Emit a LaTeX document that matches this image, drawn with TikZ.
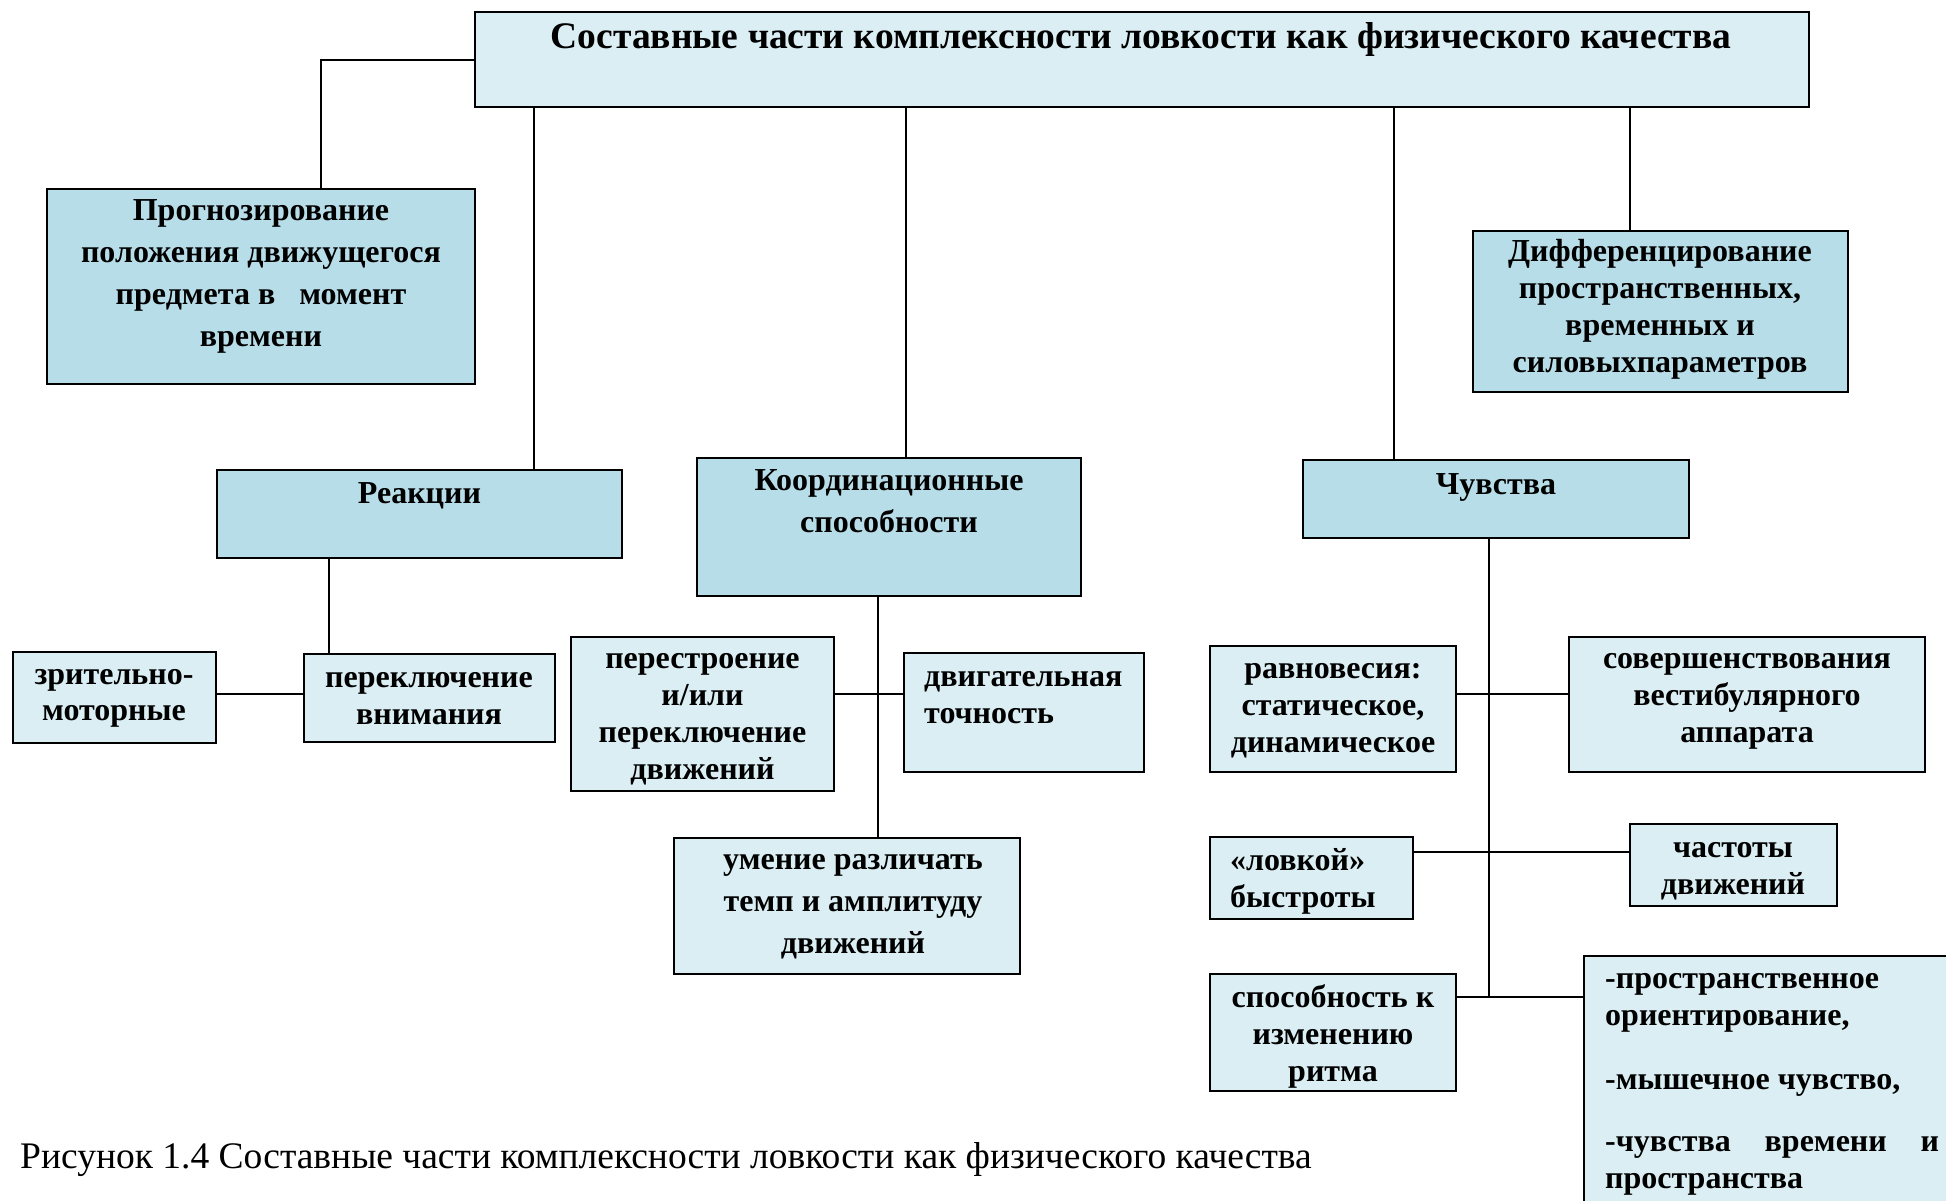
\documentclass[tikz,border=0pt]{standalone}
\usepackage{fontspec}
\setmainfont{Liberation Serif}
\definecolor{clight}{HTML}{DAEEF3}
\definecolor{cdark}{HTML}{B7DDE8}
\begin{document}
\begin{tikzpicture}[x=1pt,y=-1pt,
  boxd/.style={draw=black, line width=2pt, fill=cdark, rectangle, inner sep=0pt},
  boxl/.style={draw=black, line width=2pt, fill=clight, rectangle, inner sep=0pt},
  conn/.style={line width=1.6pt},
  connw/.style={line width=2.4pt},
  txt/.style={font=\bfseries\fontsize{32}{37}\selectfont, align=center, inner sep=0pt},
  txtw/.style={font=\bfseries\fontsize{32}{42}\selectfont, align=center, inner sep=0pt},
  txtl/.style={font=\bfseries\fontsize{32}{37}\selectfont, align=left, inner sep=0pt}
]
\useasboundingbox (0,0) rectangle (1946,1201);
\clip (0,0) rectangle (1946,1201);
\fill[white] (0,0) rectangle (1946,1201);

% boxes
\node[boxl, minimum width=1334, minimum height=95] (top) at (1142,59.5) {};
\node[boxd, minimum width=428, minimum height=195] (prog) at (261,286.5) {};
\node[boxd, minimum width=375, minimum height=161] (diff) at (1660.5,311.5) {};
\node[boxd, minimum width=405, minimum height=88] (reak) at (419.5,514) {};
\node[boxd, minimum width=384, minimum height=138] (koord) at (889,527) {};
\node[boxd, minimum width=386, minimum height=78] (chuv) at (1496,499) {};
\node[boxl, minimum width=203, minimum height=91] (zrit) at (114.5,697.5) {};
\node[boxl, minimum width=251, minimum height=88] (perekl) at (429.5,698) {};
\node[boxl, minimum width=263, minimum height=154] (perestr) at (702.5,714) {};
\node[boxl, minimum width=240, minimum height=119] (dvig) at (1024,712.5) {};
\node[boxl, minimum width=346, minimum height=136] (umen) at (847,906) {};
\node[boxl, minimum width=246, minimum height=126] (ravn) at (1333,709) {};
\node[boxl, minimum width=356, minimum height=135] (sover) at (1747,704.5) {};
\node[boxl, minimum width=203, minimum height=82] (lovk) at (1311.5,878) {};
\node[boxl, minimum width=207, minimum height=82] (chast) at (1733.5,865) {};
\node[boxl, minimum width=246, minimum height=117] (spos) at (1333,1032.5) {};
\node[boxl, minimum width=400, minimum height=300] (big) at (1784,1106) {};

% connectors
\coordinate (tl) at (321,60);
\draw[conn] (top.west |- tl) -- (tl) -- (tl |- prog.north);
\coordinate (r1) at (534,107);
\draw[conn] (r1) -- (r1 |- reak.north);
\coordinate (c1) at (906,107);
\draw[conn] (c1) -- (c1 |- koord.north);
\coordinate (c2) at (1394,107);
\draw[conn] (c2) -- (c2 |- chuv.north);
\coordinate (c3) at (1630,107);
\draw[conn] (c3) -- (c3 |- diff.north);
\coordinate (c4) at (329,558);
\draw[conn] (c4) -- (c4 |- perekl.north);
\draw[connw] (zrit.east |- 0,694) -- (perekl.west |- 0,694);
\coordinate (c5) at (878,596);
\draw[conn] (c5) -- (c5 |- umen.north);
\draw[connw] (perestr.east |- 0,694) -- (dvig.west |- 0,694);
\coordinate (c6) at (1489,538);
\coordinate (c7) at (1489,997);
\draw[conn] (c6) -- (c7);
\draw[connw] (ravn.east |- 0,694) -- (sover.west |- 0,694);
\draw[connw] (lovk.east |- 0,852) -- (chast.west |- 0,852);
\draw[connw] (spos.east |- c7) -- (big.west |- c7);

% texts
\node[font=\bfseries\fontsize{37.5}{42}\selectfont, inner sep=0pt] (ttop) at (1141,39) {Составные части комплексности ловкости как физического качества};
\node[txtw] (tprog) at (261,276) {Прогнозирование\\положения движущегося\\предмета в \ \ момент\\времени};
\node[txt] (tdiff) at (1660,309) {Дифференцирование\\пространственных,\\временных и\\силовыхпараметров};
\node[txt] (treak) at (419.5,496) {Реакции};
\node[txtw] (tkoord) at (889,501) {Координационные\\способности};
\node[txt] (tchuv) at (1496,487) {Чувства};
\node[txt, font=\bfseries\fontsize{32}{36}\selectfont] (tzrit) at (114,698.5) {зрительно-\\моторные};
\node[txt] (tperekl) at (429,699) {переключение\\внимания};
\node[txt] (tperestr) at (702.5,719.5) {перестроение\\и/или\\переключение\\движений};
\node[txtl, anchor=west] (tdvig) at (924,698) {двигательная\\точность};
\node[txtw] (tumen) at (853,907) {умение различать\\темп и амплитуду\\движений};
\node[txt] (travn) at (1333,711) {равновесия:\\статическое,\\динамическое};
\node[txt] (tsover) at (1747,701) {совершенствования\\вестибулярного\\аппарата};
\node[txtl, anchor=west] (tlovk) at (1230,881.5) {«ловкой»\\быстроты};
\node[txt] (tchast) at (1733,871) {частоты\\движений};
\node[txt] (tspos) at (1333,1036) {способность к\\изменению\\ритма};
\node[txtl, anchor=north west] (tbig) at (1605,973) {-пространственное\\ориентирование,\\[27pt]-мышечное чувство,\\[25pt]\makebox[334pt][s]{-чувства времени и}\\пространства};
\node[anchor=west, inner sep=0pt, font=\fontsize{37.5}{42}\selectfont] (cap) at (20,1160) {Рисунок 1.4 Составные части комплексности ловкости как физического качества};
\end{tikzpicture}
\end{document}
